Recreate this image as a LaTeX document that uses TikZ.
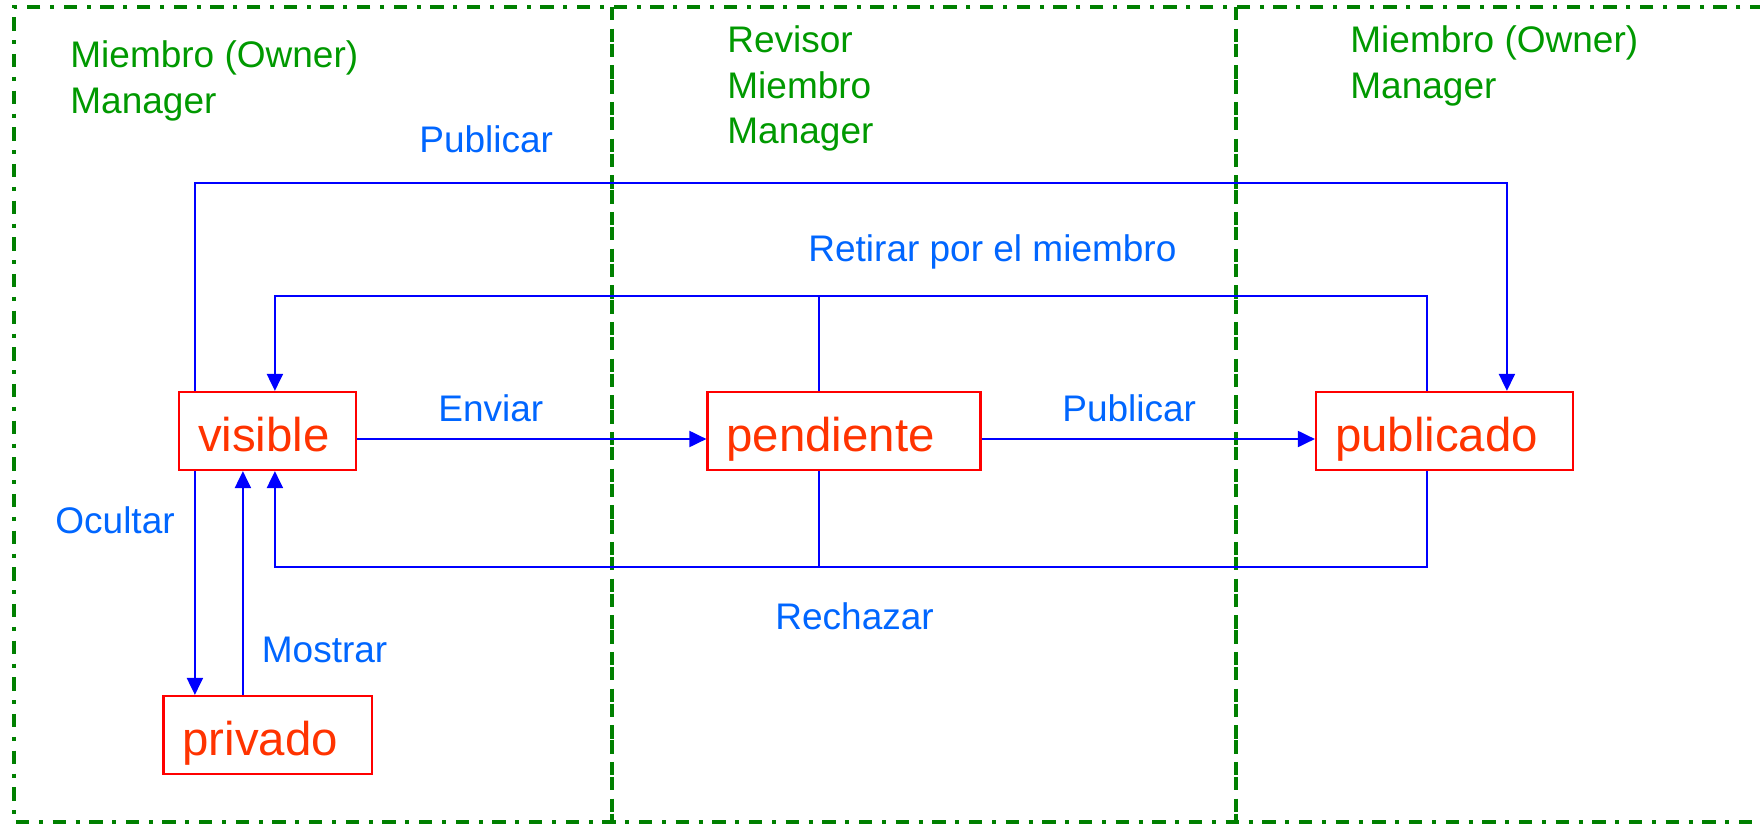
\documentclass[tikz,border=0pt]{standalone}
\usepackage{fontspec}
\setmainfont{Liberation Sans}
\usetikzlibrary{arrows.meta,calc}
\definecolor{roleg}{RGB}{0,153,0}
\definecolor{borderg}{RGB}{0,128,0}
\definecolor{labblue}{RGB}{0,102,255}
\definecolor{lineblue}{RGB}{0,0,255}
\definecolor{boxred}{RGB}{255,0,0}
\definecolor{txtred}{RGB}{255,51,0}
\tikzset{
  statebox/.style={draw=boxred, line width=1.1pt, text=txtred,
    font=\fontsize{23.7}{28}\selectfont, align=left,
    inner xsep=9.5pt, inner ysep=0pt, text height=21pt, text depth=1pt,
    minimum height=39pt},
  rolelab/.style={text=roleg, font=\fontsize{18.5}{22}\selectfont, inner sep=0pt, anchor=base west},
  translab/.style={text=labblue, font=\fontsize{18.5}{22}\selectfont, inner sep=0pt, anchor=base west},
  conn/.style={draw=lineblue, line width=1pt},
  arr/.style={conn, -{Triangle[length=8.5pt,width=8pt]}},
  lanepat/.style={draw=borderg, line width=1.65pt,
    dash pattern=on 6.67pt off 4.83pt on 2pt off 4.83pt}
}
\begin{document}
\begin{tikzpicture}[x=0.5pt,y=-0.5pt]
\useasboundingbox (0,0) rectangle (1760,824);
\clip (0,0) rectangle (1760,824);
\fill[white] (0,0) rectangle (1760,824);

% swimlanes
\draw[lanepat] (1800,7) -- (14,7) -- (14,822) -- (1800,822);
\draw[lanepat] (612,7) -- (612,822);
\draw[lanepat, dash phase=7.5pt] (612,7) -- (612,822);
\draw[lanepat] (1236,7) -- (1236,822);
\draw[lanepat, dash phase=7.5pt] (1236,7) -- (1236,822);

% roles
\node[rolelab] (r1a) at (70,68) {Miembro (Owner)};
\node[rolelab] (r1b) at (70,113) {Manager};
\node[rolelab] (r2a) at (727,53) {Revisor};
\node[rolelab] (r2b) at (727,98) {Miembro};
\node[rolelab] (r2c) at (727,143) {Manager};
\node[rolelab] (r3a) at (1350,53) {Miembro (Owner)};
\node[rolelab] (r3b) at (1350,98) {Manager};

% states
\node[statebox, text width=69.5pt] (visible) at (267.5,431) {visible};
\node[statebox, text width=117.5pt] (pendiente) at (844,431) {pendiente};
\node[statebox, text width=109.5pt] (publicado) at (1444.5,431) {publicado};
\node[statebox, text width=85.25pt] (privado) at (267.75,735) {privado};

% helper coordinates
\coordinate (pubtop) at (0,183);
\coordinate (rettop) at (0,296);
\coordinate (rechbot) at (0,567);
\coordinate (vA) at ($(visible.north west)+(17,0)$);
\coordinate (vAs) at ($(visible.south west)+(17,0)$);
\coordinate (vB) at ($(visible.north west)+(97,0)$);
\coordinate (vBs) at ($(visible.south west)+(97,0)$);
\coordinate (pA) at ($(publicado.north west)+(192,0)$);
\coordinate (pB) at ($(publicado.north west)+(112,0)$);
\coordinate (pBs) at ($(publicado.south west)+(112,0)$);
\coordinate (dT) at ($(pendiente.north west)+(112.5,0)$);
\coordinate (dS) at ($(pendiente.south west)+(112.5,0)$);
\coordinate (prA) at ($(privado.north west)+(32.5,0)$);
\coordinate (prB) at ($(privado.north west)+(80.5,0)$);

% connectors
\draw[arr] (vA) -- (vA |- pubtop) -- (pA |- pubtop) -- (pA);
\draw[arr] (pB) -- (pB |- rettop) -- (vB |- rettop) -- (vB);
\draw[conn] (dT) -- (dT |- rettop);
\draw[arr] (pBs) -- (pBs |- rechbot) -- (vBs |- rechbot) -- (vBs);
\draw[conn] (dS) -- (dS |- rechbot);
\draw[arr] ([yshift=-4pt]visible.east) -- ([yshift=-4pt]pendiente.west);
\draw[arr] ([yshift=-4pt]pendiente.east) -- ([yshift=-4pt]publicado.west);
\draw[arr] (vAs) -- (prA);
\draw[arr] (prB) -- (prB |- visible.south);

% transition labels
\node[translab] (lpub1) at (419,152) {Publicar};
\node[translab] (lret) at (808,261) {Retirar por el miembro};
\node[translab] (lenv) at (438,421) {Enviar};
\node[translab] (lpub2) at (1062,421) {Publicar};
\node[translab] (locu) at (55,533) {Ocultar};
\node[translab] (lmos) at (261.5,662) {Mostrar};
\node[translab] (lrech) at (775,629) {Rechazar};
\end{tikzpicture}
\end{document}
